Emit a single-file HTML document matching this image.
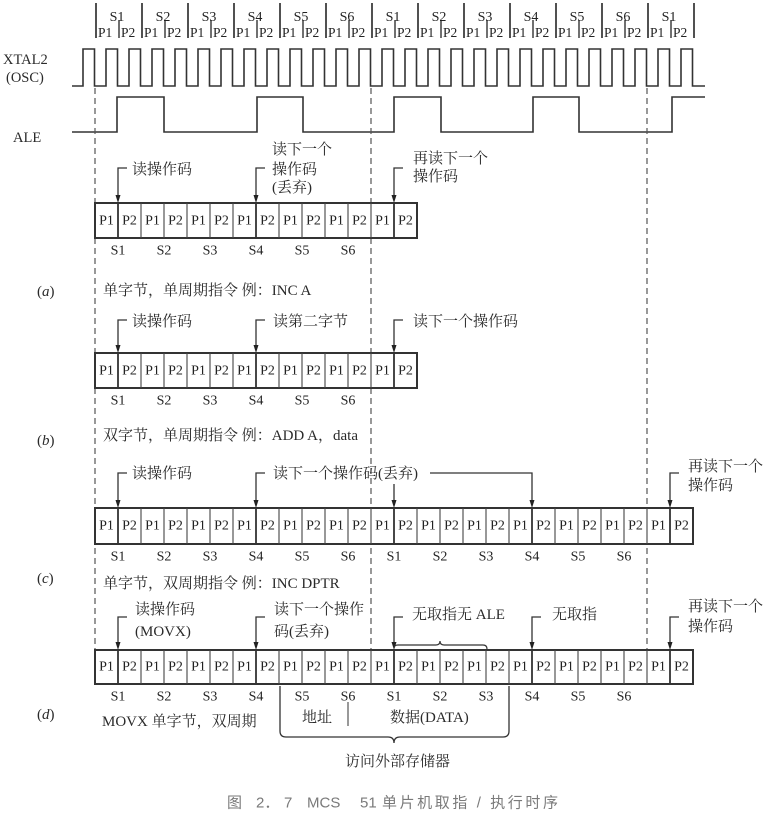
<!DOCTYPE html>
<html><head><meta charset="utf-8"><style>
html,body{margin:0;padding:0;background:#fff;}
svg{display:block;}
.s{font-family:"Liberation Serif","Noto Serif CJK SC",serif;fill:#2a2a2a;}
.c{font-family:"Liberation Serif","Noto Serif CJK SC",serif;fill:#2a2a2a;font-size:15px;dominant-baseline:central;}
.cell{font-family:"Liberation Serif",serif;fill:#222;font-size:14px;text-anchor:middle;dominant-baseline:central;}
.hp{font-family:"Liberation Serif",serif;fill:#222;font-size:13.5px;}
.hs{font-family:"Liberation Serif",serif;fill:#222;font-size:14px;text-anchor:middle;}
.cap{font-family:"Liberation Sans","Noto Sans CJK SC",sans-serif;fill:#7a7a7a;font-size:15px;dominant-baseline:central;}
</style></head><body>
<svg width="773" height="817" viewBox="0 0 773 817" xmlns="http://www.w3.org/2000/svg">
<rect width="773" height="817" fill="#fff"/>

<!-- header ticks -->
<path d="M96,3V38M142,3V38M188,3V38M234,3V38M280,3V38M326,3V38M372,3V38M418,3V38M464,3V38M510,3V38M556,3V38M602,3V38M648,3V38M694,3V38" stroke="#333" stroke-width="1.7" fill="none"/>
<path d="M119,20V38M165,20V38M211,20V38M257,20V38M303,20V38M349,20V38M395,20V38M441,20V38M487,20V38M533,20V38M579,20V38M625,20V38M671,20V38" stroke="#333" stroke-width="1.4" fill="none"/>
<g class="hs">
<text x="117" y="21">S1</text><text x="163" y="21">S2</text><text x="209" y="21">S3</text><text x="255" y="21">S4</text><text x="301" y="21">S5</text><text x="347" y="21">S6</text><text x="393" y="21">S1</text><text x="439" y="21">S2</text><text x="485" y="21">S3</text><text x="531" y="21">S4</text><text x="577" y="21">S5</text><text x="623" y="21">S6</text><text x="669" y="21">S1</text>
</g>
<g class="hp">
<text x="98" y="37">P1</text><text x="144" y="37">P1</text><text x="190" y="37">P1</text><text x="236" y="37">P1</text><text x="282" y="37">P1</text><text x="328" y="37">P1</text><text x="374" y="37">P1</text><text x="420" y="37">P1</text><text x="466" y="37">P1</text><text x="512" y="37">P1</text><text x="558" y="37">P1</text><text x="604" y="37">P1</text><text x="650" y="37">P1</text>
<text x="121" y="37">P2</text><text x="167" y="37">P2</text><text x="213" y="37">P2</text><text x="259" y="37">P2</text><text x="305" y="37">P2</text><text x="351" y="37">P2</text><text x="397" y="37">P2</text><text x="443" y="37">P2</text><text x="489" y="37">P2</text><text x="535" y="37">P2</text><text x="581" y="37">P2</text><text x="627" y="37">P2</text><text x="673" y="37">P2</text>
</g>

<!-- signal labels -->
<text class="s" x="3" y="64" font-size="14.5">XTAL2</text>
<text class="s" x="6" y="82" font-size="14.5">(OSC)</text>
<text class="s" x="13" y="142" font-size="14.5">ALE</text>

<!-- clock -->
<path d="M72,86H83V49H94.5V86H106V49H117.5V86H129V49H140.5V86H152V49H163.5V86H175V49H186.5V86H198V49H209.5V86H221V49H232.5V86H244V49H255.5V86H267V49H278.5V86H290V49H301.5V86H313V49H324.5V86H336V49H347.5V86H359V49H370.5V86H382V49H393.5V86H405V49H416.5V86H428V49H439.5V86H451V49H462.5V86H474V49H485.5V86H497V49H508.5V86H520V49H531.5V86H543V49H554.5V86H566V49H577.5V86H589V49H600.5V86H612V49H623.5V86H635V49H646.5V86H658V49H669.5V86H681V49H692.5V86H705" stroke="#333" stroke-width="1.6" fill="none"/>
<!-- ALE -->
<path d="M72,132H117V97H164V132H257V97H303V132H394V97H441V132H533V97H579V132H672V97H705" stroke="#333" stroke-width="1.6" fill="none"/>

<!-- dashed lines -->
<path d="M95,88V650M371,88V650M647,88V650" stroke="#555" stroke-width="1.2" stroke-dasharray="6,4" fill="none"/>

<!-- ===== (a) ===== -->
<rect x="95" y="203" width="322" height="35" fill="#fff" stroke="#333" stroke-width="2"/>
<path d="M141,203V238M164,203V238M187,203V238M210,203V238M233,203V238M279,203V238M302,203V238M325,203V238M348,203V238M371,203V238" stroke="#444" stroke-width="1.1"/>
<path d="M118,203V238M256,203V238M394,203V238" stroke="#333" stroke-width="1.8"/>
<g class="cell">
<text x="106.5" y="221">P1</text><text x="129.5" y="221">P2</text><text x="152.5" y="221">P1</text><text x="175.5" y="221">P2</text><text x="198.5" y="221">P1</text><text x="221.5" y="221">P2</text><text x="244.5" y="221">P1</text><text x="267.5" y="221">P2</text><text x="290.5" y="221">P1</text><text x="313.5" y="221">P2</text><text x="336.5" y="221">P1</text><text x="359.5" y="221">P2</text><text x="382.5" y="221">P1</text><text x="405.5" y="221">P2</text>
<text x="118" y="251">S1</text><text x="164" y="251">S2</text><text x="210" y="251">S3</text><text x="256" y="251">S4</text><text x="302" y="251">S5</text><text x="348" y="251">S6</text>
</g>
<path d="M127,168H118V200M265,168H256V200M403,168H394V200" stroke="#333" stroke-width="1.3" fill="none"/>
<path d="M115.5,195H120.5L118,203ZM253.5,195H258.5L256,203ZM391.5,195H396.5L394,203Z" fill="#222"/>
<text class="c" x="132" y="170">读操作码</text>
<text class="c" x="272" y="150">读下一个</text>
<text class="c" x="272" y="170">操作码</text>
<text class="c" x="272" y="188">(丢弃)</text>
<text class="c" x="413" y="159">再读下一个</text>
<text class="c" x="413" y="177">操作码</text>
<text class="c" x="37" y="292"><tspan>(</tspan><tspan font-style="italic">a</tspan><tspan>)</tspan></text>
<text class="c" x="103" y="291">单字节，单周期指令 例：INC A</text>

<!-- ===== (b) ===== -->
<rect x="95" y="353" width="322" height="35" fill="#fff" stroke="#333" stroke-width="2"/>
<path d="M141,353V388M164,353V388M187,353V388M210,353V388M233,353V388M279,353V388M302,353V388M325,353V388M348,353V388M371,353V388" stroke="#444" stroke-width="1.1"/>
<path d="M118,353V388M256,353V388M394,353V388" stroke="#333" stroke-width="1.8"/>
<g class="cell">
<text x="106.5" y="371">P1</text><text x="129.5" y="371">P2</text><text x="152.5" y="371">P1</text><text x="175.5" y="371">P2</text><text x="198.5" y="371">P1</text><text x="221.5" y="371">P2</text><text x="244.5" y="371">P1</text><text x="267.5" y="371">P2</text><text x="290.5" y="371">P1</text><text x="313.5" y="371">P2</text><text x="336.5" y="371">P1</text><text x="359.5" y="371">P2</text><text x="382.5" y="371">P1</text><text x="405.5" y="371">P2</text>
<text x="118" y="401">S1</text><text x="164" y="401">S2</text><text x="210" y="401">S3</text><text x="256" y="401">S4</text><text x="302" y="401">S5</text><text x="348" y="401">S6</text>
</g>
<path d="M127,320H118V350M265,320H256V350M403,320H394V350" stroke="#333" stroke-width="1.3" fill="none"/>
<path d="M115.5,345H120.5L118,353ZM253.5,345H258.5L256,353ZM391.5,345H396.5L394,353Z" fill="#222"/>
<text class="c" x="132" y="322">读操作码</text>
<text class="c" x="273" y="322">读第二字节</text>
<text class="c" x="413" y="322">读下一个操作码</text>
<text class="c" x="37" y="441"><tspan>(</tspan><tspan font-style="italic">b</tspan><tspan>)</tspan></text>
<text class="c" x="103" y="436">双字节，单周期指令 例：ADD A，data</text>

<!-- ===== (c) ===== -->
<rect x="95" y="508" width="598" height="36" fill="#fff" stroke="#333" stroke-width="2"/>
<path d="M141,508V544M164,508V544M187,508V544M210,508V544M233,508V544M279,508V544M302,508V544M325,508V544M348,508V544M371,508V544M417,508V544M440,508V544M463,508V544M486,508V544M509,508V544M555,508V544M578,508V544M601,508V544M624,508V544M647,508V544" stroke="#444" stroke-width="1.1"/>
<path d="M118,508V544M256,508V544M394,508V544M532,508V544M670,508V544" stroke="#333" stroke-width="1.8"/>
<g class="cell">
<text x="106.5" y="526">P1</text><text x="129.5" y="526">P2</text><text x="152.5" y="526">P1</text><text x="175.5" y="526">P2</text><text x="198.5" y="526">P1</text><text x="221.5" y="526">P2</text><text x="244.5" y="526">P1</text><text x="267.5" y="526">P2</text><text x="290.5" y="526">P1</text><text x="313.5" y="526">P2</text><text x="336.5" y="526">P1</text><text x="359.5" y="526">P2</text><text x="382.5" y="526">P1</text><text x="405.5" y="526">P2</text><text x="428.5" y="526">P1</text><text x="451.5" y="526">P2</text><text x="474.5" y="526">P1</text><text x="497.5" y="526">P2</text><text x="520.5" y="526">P1</text><text x="543.5" y="526">P2</text><text x="566.5" y="526">P1</text><text x="589.5" y="526">P2</text><text x="612.5" y="526">P1</text><text x="635.5" y="526">P2</text><text x="658.5" y="526">P1</text><text x="681.5" y="526">P2</text>
<text x="118" y="557">S1</text><text x="164" y="557">S2</text><text x="210" y="557">S3</text><text x="256" y="557">S4</text><text x="302" y="557">S5</text><text x="348" y="557">S6</text><text x="394" y="557">S1</text><text x="440" y="557">S2</text><text x="486" y="557">S3</text><text x="532" y="557">S4</text><text x="578" y="557">S5</text><text x="624" y="557">S6</text>
</g>
<path d="M127,473H118V505M265,473H256V505M394,484V505M430,473H532V505M679,473H670V505" stroke="#333" stroke-width="1.3" fill="none"/>
<path d="M115.5,500H120.5L118,508ZM253.5,500H258.5L256,508ZM391.5,500H396.5L394,508ZM529.5,500H534.5L532,508ZM667.5,500H672.5L670,508Z" fill="#222"/>
<text class="c" x="132" y="474">读操作码</text>
<text class="c" x="273" y="474">读下一个操作码(丢弃)</text>
<text class="c" x="688" y="467">再读下一个</text>
<text class="c" x="688" y="486">操作码</text>
<text class="c" x="37" y="579"><tspan>(</tspan><tspan font-style="italic">c</tspan><tspan>)</tspan></text>
<text class="c" x="103" y="584">单字节，双周期指令 例：INC DPTR</text>

<!-- ===== (d) ===== -->
<rect x="95" y="650" width="598" height="34" fill="#fff" stroke="#333" stroke-width="2"/>
<path d="M141,650V684M164,650V684M187,650V684M210,650V684M233,650V684M279,650V684M302,650V684M325,650V684M348,650V684M371,650V684M417,650V684M440,650V684M463,650V684M486,650V684M509,650V684M555,650V684M578,650V684M601,650V684M624,650V684M647,650V684" stroke="#444" stroke-width="1.1"/>
<path d="M118,650V684M256,650V684M394,650V684M532,650V684M670,650V684" stroke="#333" stroke-width="1.8"/>
<g class="cell">
<text x="106.5" y="667">P1</text><text x="129.5" y="667">P2</text><text x="152.5" y="667">P1</text><text x="175.5" y="667">P2</text><text x="198.5" y="667">P1</text><text x="221.5" y="667">P2</text><text x="244.5" y="667">P1</text><text x="267.5" y="667">P2</text><text x="290.5" y="667">P1</text><text x="313.5" y="667">P2</text><text x="336.5" y="667">P1</text><text x="359.5" y="667">P2</text><text x="382.5" y="667">P1</text><text x="405.5" y="667">P2</text><text x="428.5" y="667">P1</text><text x="451.5" y="667">P2</text><text x="474.5" y="667">P1</text><text x="497.5" y="667">P2</text><text x="520.5" y="667">P1</text><text x="543.5" y="667">P2</text><text x="566.5" y="667">P1</text><text x="589.5" y="667">P2</text><text x="612.5" y="667">P1</text><text x="635.5" y="667">P2</text><text x="658.5" y="667">P1</text><text x="681.5" y="667">P2</text>
<text x="118" y="697">S1</text><text x="164" y="697">S2</text><text x="210" y="697">S3</text><text x="256" y="697">S4</text><text x="302" y="697">S5</text><text x="348" y="697">S6</text><text x="394" y="697">S1</text><text x="440" y="697">S2</text><text x="486" y="697">S3</text><text x="532" y="697">S4</text><text x="578" y="697">S5</text><text x="624" y="697">S6</text>
</g>
<path d="M127,617H118V647M265,617H256V647M403,617H394V647M541,617H532V647M679,617H670V647" stroke="#333" stroke-width="1.3" fill="none"/>
<path d="M115.5,642H120.5L118,650ZM253.5,642H258.5L256,650ZM391.5,642H396.5L394,650ZM529.5,642H534.5L532,650ZM667.5,642H672.5L670,650Z" fill="#222"/>
<!-- small brace over box -->
<path d="M394,648Q394,645 398,645H436Q440,645 440,641Q440,645 444,645H483Q487,645 487,649" stroke="#333" stroke-width="1.2" fill="none"/>
<text class="c" x="135" y="610">读操作码</text>
<text class="c" x="135" y="632">(MOVX)</text>
<text class="c" x="274" y="610">读下一个操作</text>
<text class="c" x="274" y="632">码(丢弃)</text>
<text class="c" x="412" y="615">无取指无 ALE</text>
<text class="c" x="552" y="615">无取指</text>
<text class="c" x="688" y="607">再读下一个</text>
<text class="c" x="688" y="627">操作码</text>
<text class="c" x="37" y="715"><tspan>(</tspan><tspan font-style="italic">d</tspan><tspan>)</tspan></text>
<text class="c" x="102" y="722">MOVX 单字节，双周期</text>
<text class="c" x="302" y="718">地址</text>
<path d="M348,702V726" stroke="#555" stroke-width="1.2"/>
<text class="c" x="390" y="718">数据(DATA)</text>
<!-- big bracket -->
<path d="M280,686V731Q280,737 286,737H388Q394,737 394,743Q394,737 400,737H503Q509,737 509,731V686" stroke="#333" stroke-width="1.3" fill="none"/>
<text class="c" x="345" y="762">访问外部存储器</text>

<!-- caption -->
<text class="cap" x="227" y="803">图</text>
<text class="cap" x="256" y="803">2．</text>
<text class="cap" x="284" y="803">7</text>
<text class="cap" x="307" y="803">MCS</text>
<text class="cap" x="360" y="803">51</text>
<text class="cap" x="382" y="803" textLength="176" lengthAdjust="spacing">单片机取指 / 执行时序</text>
</svg>
</body></html>
